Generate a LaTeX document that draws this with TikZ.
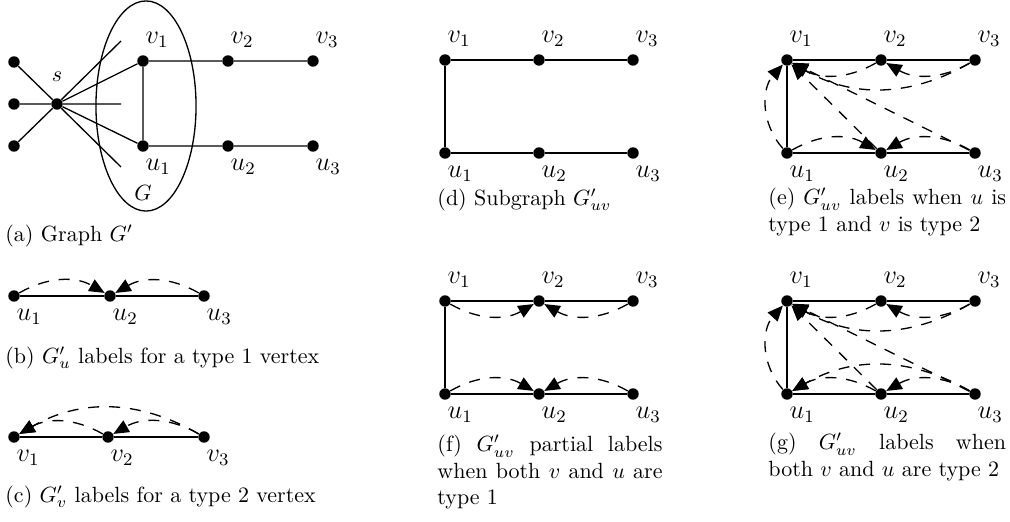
\documentclass[tikz,border=0pt]{standalone}
\usetikzlibrary{arrows.meta,shapes.geometric}
\begin{document}
\begin{tikzpicture}[x=0.4545pt,y=-0.4545pt,
  vdot/.style={circle,fill=black,inner sep=0pt,minimum size=5.2pt},
  vlab/.style={anchor=south west,inner sep=1pt,label distance=2.3pt,font=\large},
  ulab/.style={anchor=north west,inner sep=1pt,label distance=1.8pt,font=\large},
  topv/.style={vdot,label={[vlab]90:$#1$}},
  botv/.style={vdot,label={[ulab]270:$#1$}},
  sline/.style={line width=0.6pt},
  lbl/.style={line width=0.6pt,dash pattern=on 5pt off 4.5pt,-{Triangle[length=7pt,width=6pt]}},
  captext/.style={anchor=west,inner sep=0pt},
  mcaptext/.style={anchor=north west,inner sep=0pt,align=justify,text width=#1}
]
\useasboundingbox (0,0) rectangle (1010,522);

% ---------- (a) ----------
\node[vdot] (aL1) at (14,62) {};
\node[vdot] (aL2) at (14,104) {};
\node[vdot] (aL3) at (14,146) {};
\node[vdot,label={[inner sep=1pt,label distance=6pt]90:$s$}] (as) at (57,104) {};
\coordinate (ac1) at (121,41);
\coordinate (ac2) at (121,104);
\coordinate (ac3) at (121,167);
\node[topv=v_1] (av1) at (143,61) {};
\node[topv=v_2] (av2) at (228,61) {};
\node[topv=v_3] (av3) at (313,61) {};
\node[botv=u_1] (au1) at (143,146) {};
\node[botv=u_2] (au2) at (228,146) {};
\node[botv=u_3] (au3) at (313,146) {};
\node[draw,ellipse,sline,inner sep=0pt,minimum width=45.5pt,minimum height=95.5pt] (aG) at (146,106) {};
\node (aGl) at (143,193) {$G$};
\draw[sline] (aL1)--(as) (aL2)--(as) (aL3)--(as) (as)--(ac1) (as)--(ac2) (as)--(ac3)
  (as)--(av1) (as)--(au1) (av1)--(au1) (av1)--(av2)--(av3) (au1)--(au2)--(au3);
\node[captext] (capa) at (5,236) {(a) Graph $G'$};

% ---------- (b) ----------
\node[botv=u_1] (bu1) at (14,296) {};
\node[botv=u_2] (bu2) at (110,296) {};
\node[botv=u_3] (bu3) at (204,296) {};
\draw[sline] (bu1)--(bu2)--(bu3);
\draw[lbl] (bu1) to[bend left=30] (bu2);
\draw[lbl] (bu3) to[bend right=30] (bu2);
\node[captext] (capb) at (5,358) {(b) $G'_u$ labels for a type 1 vertex};

% ---------- (c) ----------
\node[botv=v_1] (cv1) at (14,437) {};
\node[botv=v_2] (cv2) at (108,437) {};
\node[botv=v_3] (cv3) at (204,437) {};
\draw[sline] (cv1)--(cv2)--(cv3);
\draw[lbl] (cv2) to[bend right=30] (cv1);
\draw[lbl] (cv3) to[bend right=30] (cv2);
\draw[lbl] (cv3) to[bend right=30] (cv1);
\node[captext] (capc) at (5,497) {(c) $G'_v$ labels for a type 2 vertex};

% ---------- (d) ----------
\node[topv=v_1] (dv1) at (445,60) {};
\node[topv=v_2] (dv2) at (539,60) {};
\node[topv=v_3] (dv3) at (633,60) {};
\node[botv=u_1] (du1) at (445,153) {};
\node[botv=u_2] (du2) at (539,153) {};
\node[botv=u_3] (du3) at (633,153) {};
\draw[sline] (dv1)--(dv2)--(dv3) (du1)--(du2)--(du3) (dv1)--(du1);
\node[captext] (capd) at (437,200) {(d) Subgraph $G'_{uv}$};

% ---------- (e) ----------
\node[topv=v_1] (ev1) at (787,60) {};
\node[topv=v_2] (ev2) at (881,60) {};
\node[topv=v_3] (ev3) at (975,60) {};
\node[botv=u_1] (eu1) at (787,153) {};
\node[botv=u_2] (eu2) at (881,153) {};
\node[botv=u_3] (eu3) at (975,153) {};
\draw[sline] (ev1)--(ev2)--(ev3) (eu1)--(eu2)--(eu3) (ev1)--(eu1);
\draw[lbl] (ev2) to[bend left=30] (ev1);
\draw[lbl] (ev3) to[bend left=30] (ev2);
\draw[lbl] (ev3) to[bend left=30] (ev1);
\draw[lbl] (eu1) to[bend left=30] (eu2);
\draw[lbl] (eu3) to[bend right=30] (eu2);
\draw[lbl] (eu1) to[bend left=42] (ev1);
\draw[lbl] (eu2) -- (ev1);
\draw[lbl] (eu3) -- (ev1);
\node[mcaptext=108pt] (cape) at (768,188) {(e) $G'_{uv}$ labels when $u$ is\linebreak type 1 and $v$ is type 2};

% ---------- (f) ----------
\node[topv=v_1] (fv1) at (445,301) {};
\node[topv=v_2] (fv2) at (539,301) {};
\node[topv=v_3] (fv3) at (633,301) {};
\node[botv=u_1] (fu1) at (445,394) {};
\node[botv=u_2] (fu2) at (539,394) {};
\node[botv=u_3] (fu3) at (633,394) {};
\draw[sline] (fv1)--(fv2)--(fv3) (fu1)--(fu2)--(fu3) (fv1)--(fu1);
\draw[lbl] (fv1) to[bend right=30] (fv2);
\draw[lbl] (fv3) to[bend left=30] (fv2);
\draw[lbl] (fu1) to[bend left=30] (fu2);
\draw[lbl] (fu3) to[bend right=30] (fu2);
\node[mcaptext=102.3pt] (capf) at (437,435) {(f) $G'_{uv}$ partial labels\linebreak when both $v$ and $u$ are\linebreak type 1};

% ---------- (g) ----------
\node[topv=v_1] (gv1) at (787,301) {};
\node[topv=v_2] (gv2) at (881,301) {};
\node[topv=v_3] (gv3) at (975,301) {};
\node[botv=u_1] (gu1) at (787,394) {};
\node[botv=u_2] (gu2) at (881,394) {};
\node[botv=u_3] (gu3) at (975,394) {};
\draw[sline] (gv1)--(gv2)--(gv3) (gu1)--(gu2)--(gu3) (gv1)--(gu1);
\draw[lbl] (gv2) to[bend left=30] (gv1);
\draw[lbl] (gv3) to[bend left=30] (gv2);
\draw[lbl] (gv3) to[bend left=30] (gv1);
\draw[lbl] (gu2) to[bend right=30] (gu1);
\draw[lbl] (gu3) to[bend right=30] (gu2);
\draw[lbl] (gu3) to[bend right=30] (gu1);
\draw[lbl] (gu1) to[bend left=42] (gv1);
\draw[lbl] (gu2) -- (gv1);
\draw[lbl] (gu3) -- (gv1);
\node[mcaptext=108pt] (capg) at (768,433) {(g) $G'_{uv}$ labels when\linebreak both $v$ and $u$ are type 2};
\end{tikzpicture}
\end{document}
